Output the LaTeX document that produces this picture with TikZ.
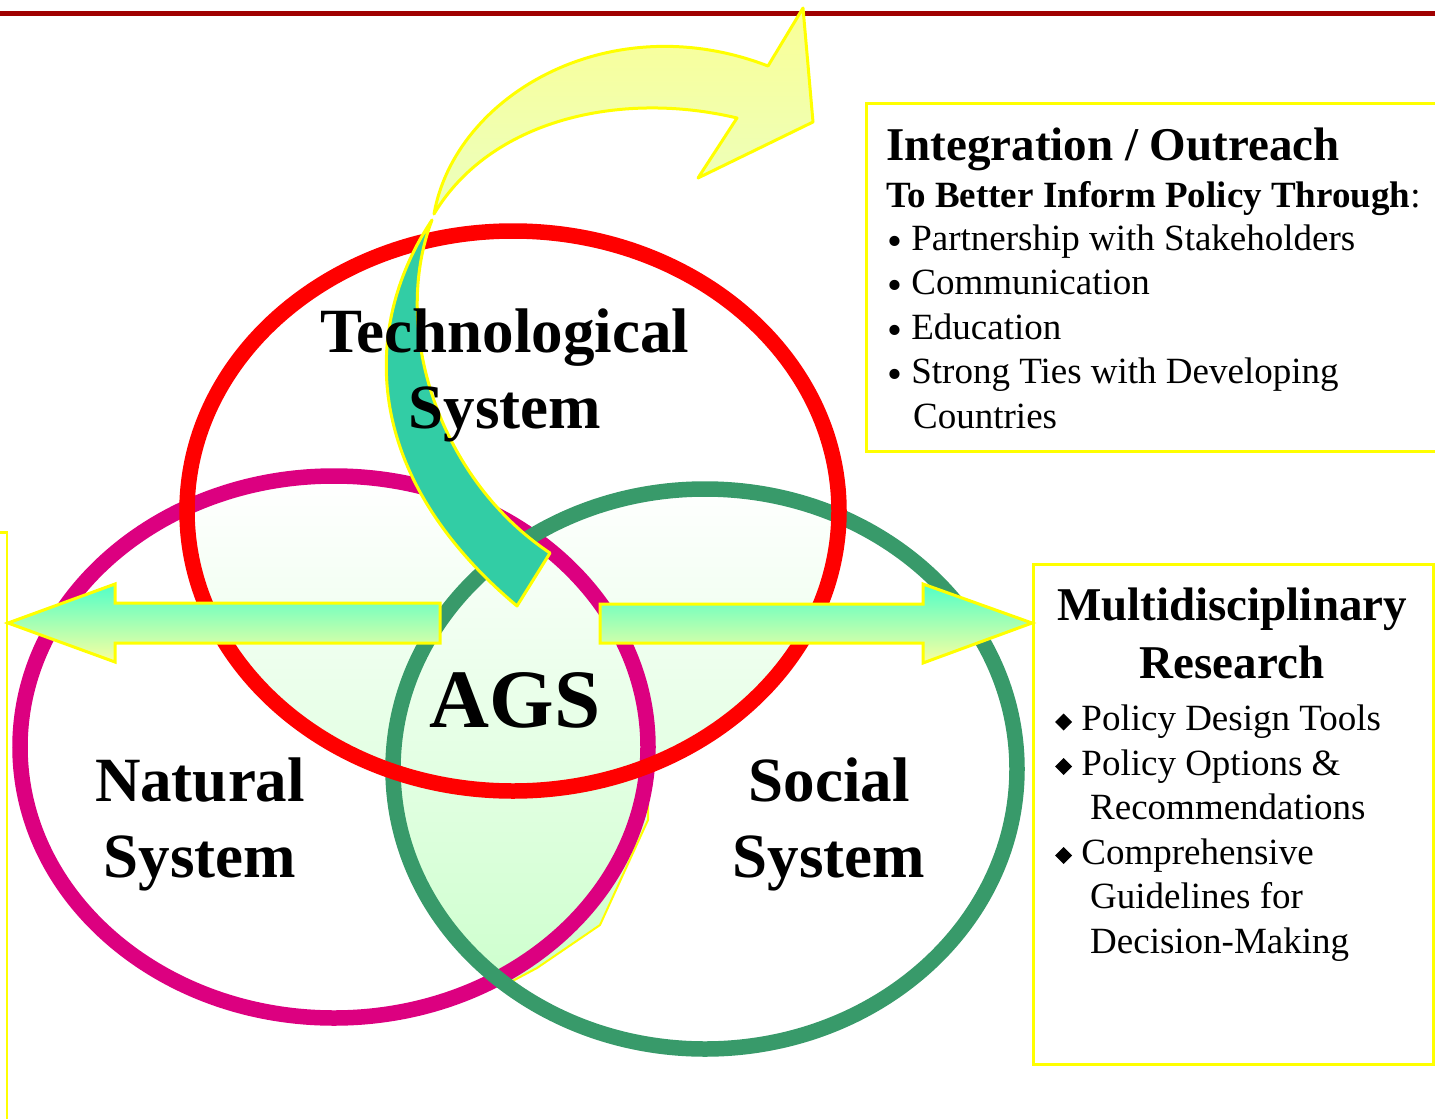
\documentclass[tikz,border=0pt]{standalone}
\usepackage{fontspec}
\setmainfont{Liberation Serif}
\usepackage{graphicx}
\usetikzlibrary{calc}

\definecolor{techred}{RGB}{255,0,0}
\definecolor{natmagenta}{RGB}{220,0,128}
\definecolor{socgreen}{RGB}{56,154,106}
\definecolor{ribbonteal}{RGB}{50,205,165}
\definecolor{ribbonyellow}{RGB}{250,255,150}
\definecolor{ribbonpale}{RGB}{235,255,190}
\definecolor{edgeyellow}{RGB}{255,255,0}
\definecolor{aqua}{RGB}{80,255,200}
\definecolor{paleyellow}{RGB}{250,255,160}
\definecolor{overlapgreen}{RGB}{204,255,204}
\definecolor{ruledred}{RGB}{160,0,0}

% list marks
\newcommand\dotmark{\raisebox{-0.14em}{\scalebox{1.15}{\textbullet}}}
\newcommand\diamark{\rotatebox{45}{\rule{12pt}{12pt}}}

\tikzset{
  tech shape/.style={x radius=326pt, y radius=280pt},
  nat shape/.style={x radius=314pt, y radius=271pt},
  soc shape/.style={x radius=312pt, y radius=280pt},
  ring/.style={line width=15.5pt},
  overlap/.style={top color=white, bottom color=overlapgreen},
  ribbon/.style={draw=edgeyellow, line width=3pt, line join=round},
  blockarrow/.style={draw=edgeyellow, line width=3pt, top color=aqua, bottom color=paleyellow},
  infobox/.style={draw=edgeyellow, line width=2.5pt, inner sep=0pt},
  syslabel/.style={font=\fontsize{63}{76}\selectfont\bfseries, align=center, inner sep=0pt},
  boxtitle/.style={font=\fontsize{47}{58}\selectfont\bfseries, inner sep=0pt},
  boxlist/.style={font=\fontsize{37}{44.5}\selectfont, align=left, inner sep=0pt, anchor=base west},
}

\begin{document}
\begin{tikzpicture}[x=1pt, y=-1pt]
\useasboundingbox (0,0) rectangle (1435,1119);
\clip (0,0) rectangle (1435,1119);

% rule along the top
\draw[ruledred, line width=5pt] (0,13) -- (1435,13);

% centres of the three systems
\coordinate (tech) at (513,511);
\coordinate (nat) at (334,747);
\coordinate (soc) at (705,769);

% shaded backing under the overlaps
\shadedraw[overlap, draw=edgeyellow, line width=2pt]
  (193,513) -- (323,488) -- (413,493) -- (545,556) -- (572,582) -- (630,672)
  -- (648,803) -- (648,820) -- (600,925) -- (537,968) -- (505,985)
  -- (440,900) -- (420,785) -- (395,765) -- (350,735) -- (240,645) -- cycle;
\foreach \a/\b in {tech/nat, tech/soc, nat/soc}{
  \begin{scope}
    \clip (\a) ellipse [\a\space shape];
    \clip (\b) ellipse [\b\space shape];
    \shade[overlap] (180,480) rectangle (1030,1000);
  \end{scope}
}

% the three systems
\draw[ring, natmagenta] (nat) ellipse [nat shape];
\draw[ring, socgreen] (soc) ellipse [soc shape];
\draw[ring, techred] (tech) ellipse [tech shape];

% curled outreach arrow
\coordinate (twist) at (434,214);
\filldraw[ribbon, fill=ribbonteal] (432,220) .. controls (365,320) and (355,470) .. (517,606)
  -- (550,553) .. controls (440,480) and (390,330) .. (432,220) -- cycle;
\shadedraw[ribbon, top color=ribbonyellow, bottom color=ribbonpale]
  (twist) .. controls (455,95) and (610,5) .. (768,66) -- (803,8) -- (813,122)
  -- (698,178) -- (737,118) .. controls (620,90) and (490,120) .. (twist) -- cycle;

% boxes
\node[infobox, anchor=north west, minimum width=620pt, minimum height=348pt] (outbox) at (865,102) {};
\node[infobox, anchor=north west, minimum width=400pt, minimum height=500pt] (resbox) at (1032,563) {};
\node[infobox, anchor=north east, minimum width=60pt, minimum height=640pt] (leftbox) at (8,531) {};

% block arrows out to the boxes
\coordinate (axis) at (0,623);
\shadedraw[blockarrow] (440,603) -- (115,603) -- (115,584) -- (leftbox.east |- axis)
  -- (115,662) -- (115,643) -- (440,643) -- cycle;
\shadedraw[blockarrow] (600,604) -- (923,604) -- (923,584) -- (resbox.west |- axis)
  -- (923,663) -- (923,643) -- (600,643) -- cycle;

% labels (base of a multi-line node is its last line)
\node[syslabel, anchor=base] (techlabel) at (505,428) {Technological\\System};
\node[syslabel, anchor=base] (natlabel) at (200,877) {Natural\\System};
\node[syslabel, anchor=base] (soclabel) at (829,877) {Social\\System};
\node[font=\fontsize{83}{83}\selectfont\bfseries, anchor=base, inner sep=0pt] (ags) at (515,727) {AGS};

\node[boxtitle, anchor=base west] (outtitle) at (886,160) {Integration / Outreach};
\node[font=\fontsize{37}{37}\selectfont, anchor=base west, inner sep=0pt] (outsub) at (886,207)
  {\textbf{To Better Inform Policy Through}:};
\node[boxlist] (outlist) at (887,428) {\dotmark\ Partnership with Stakeholders\\
  \dotmark\ Communication\\
  \dotmark\ Education\\
  \dotmark\ Strong Ties with Developing\\
  \hspace*{26pt}Countries};

\node[boxtitle, align=center, anchor=base] (restitle) at (1232,678) {Multidisciplinary\\Research};
\node[boxlist] (reslist) at (1055,953) {\diamark\ Policy Design Tools\\
  \diamark\ Policy Options \&\\
  \hspace*{35pt}Recommendations\\
  \diamark\ Comprehensive\\
  \hspace*{35pt}Guidelines for\\
  \hspace*{35pt}Decision-Making};
\end{tikzpicture}
\end{document}
